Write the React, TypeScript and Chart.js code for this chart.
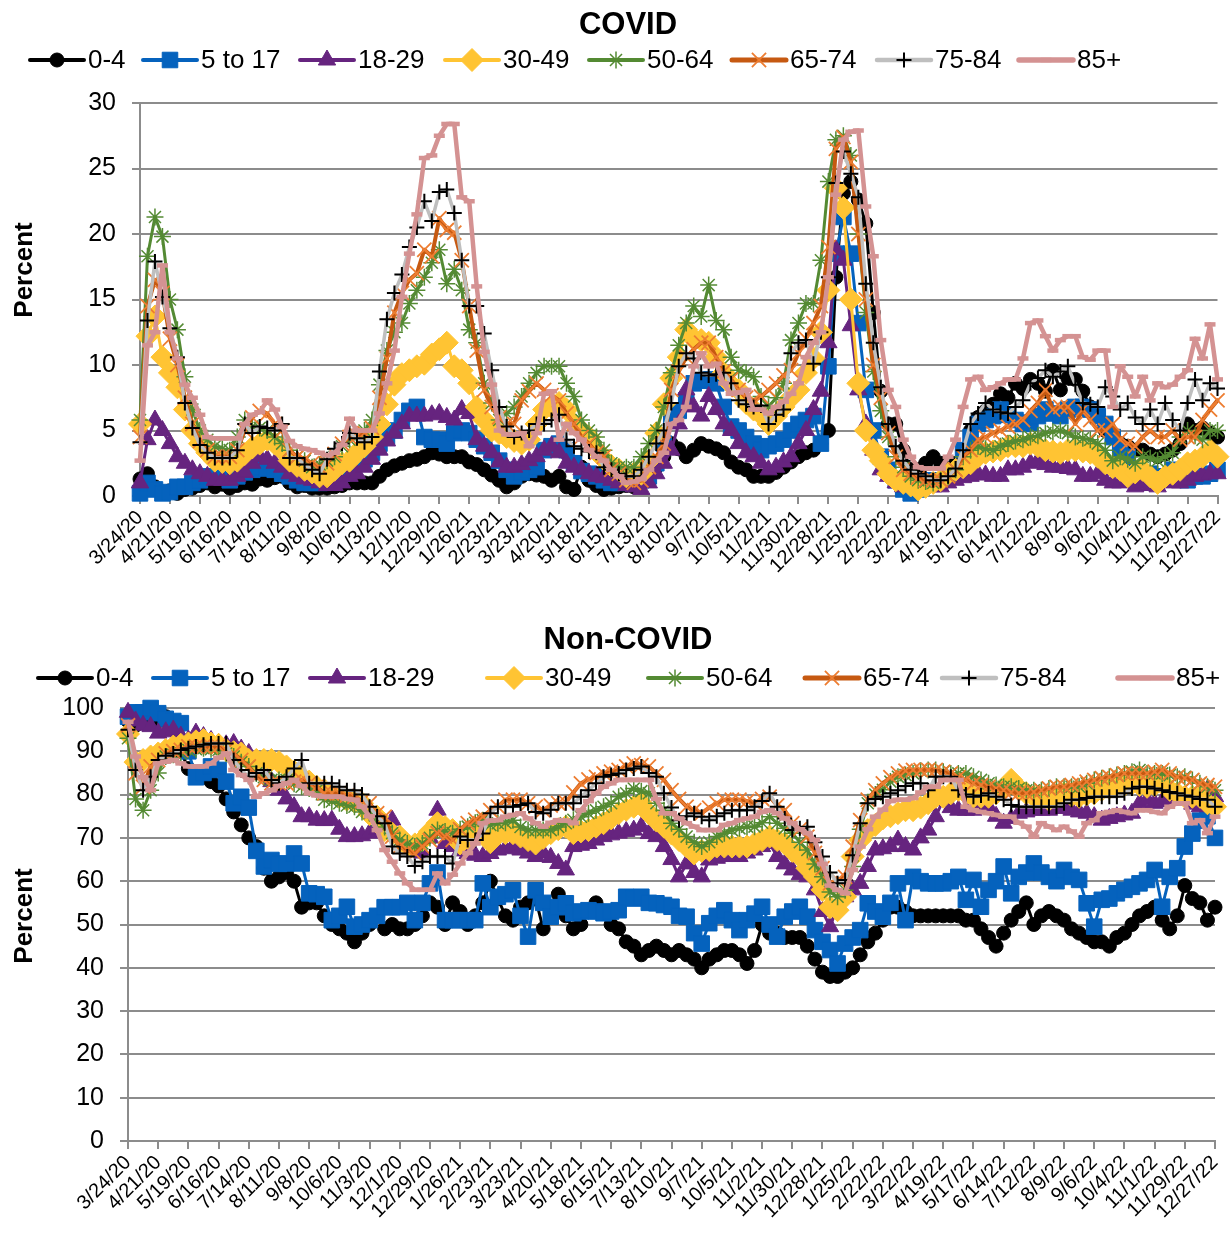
import React, { useEffect, useRef } from 'react';
import { Chart, registerables } from 'chart.js';

Chart.register(...registerables);
Chart.defaults.font.family = '"Liberation Sans", Arial, sans-serif';

// ---------- categories ----------
const START_DATE = [2020, 2, 24]; // 3/24/20
const N_WEEKS = 145;
function weeklyLabels(): string[] {
  const out: string[] = [];
  const d = new Date(START_DATE[0], START_DATE[1], START_DATE[2]);
  for (let i = 0; i < N_WEEKS; i++) {
    out.push(`${d.getMonth() + 1}/${d.getDate()}/${String(d.getFullYear()).slice(2)}`);
    d.setDate(d.getDate() + 7);
  }
  return out;
}
const LABELS = weeklyLabels();
const TICK_EVERY = 4;

const SERIES_NAMES = ['0-4', '5 to 17', '18-29', '30-49', '50-64', '65-74', '75-84', '85+'];

// ---------- COVID (percent) ----------
const covid04 = [
  1.3, 1.7, 0.7, 0.2, 0.4, 0.2, 0.5, 0.6, 0.8, 1.0,
  0.7, 0.9, 0.6, 0.8, 1.0, 0.9, 1.3, 1.2, 1.4, 1.5,
  1.0, 0.7, 0.8, 0.6, 0.6, 0.6, 0.7, 0.8, 1.0, 1.0,
  1.0, 1.0, 1.5, 2.0, 2.3, 2.5, 2.7, 2.8, 3.0, 3.3,
  3.2, 3.0, 3.0, 3.0, 2.6, 2.4, 2.0, 1.6, 1.2, 0.7,
  1.0, 1.5, 1.7, 1.6, 1.5, 1.2, 1.5, 0.7, 0.5, 2.2,
  1.2, 0.8, 0.5, 0.6, 0.7, 0.8, 0.7, 1.0, 1.8, 2.2,
  3.0, 4.0, 3.6, 3.0, 3.5, 4.0, 3.8, 3.6, 3.3, 2.6,
  2.2, 2.0, 1.5, 1.5, 1.5, 1.8, 2.2, 2.6, 3.0, 3.3,
  3.5, 4.0, 5.0, 16.7, 23.1, 24.0, 22.6, 20.8, 14.0, 8.0,
  5.5, 5.5, 3.5, 2.0, 2.0, 2.5, 3.0, 2.5, 1.7, 2.5,
  3.5, 5.0, 6.0, 6.5, 7.0, 7.8, 7.5, 8.6, 8.2, 8.9,
  8.6, 8.0, 9.6, 8.1, 9.0, 8.9, 8.0, 6.8, 6.1, 5.0,
  4.5, 4.0, 3.8, 3.5, 3.5, 3.2, 3.0, 3.2, 3.5, 4.0,
  5.5, 5.0, 5.2, 4.8, 4.5,
];
const covid517 = [
  0.2, 1.0, 0.5, 0.2, 0.3, 0.7, 0.7, 1.0, 1.2, 1.5,
  1.5, 1.5, 1.2, 1.5, 1.8, 2.0, 2.2, 2.1, 2.0, 1.7,
  1.5, 1.2, 1.0, 1.0, 1.0, 1.2, 1.2, 1.7, 2.0, 2.5,
  2.8, 3.3, 4.0, 4.5, 5.0, 5.8, 6.5, 6.8, 4.5, 4.3,
  4.3, 4.0, 4.8, 5.0, 4.8, 4.3, 3.8, 3.3, 2.7, 2.0,
  1.5, 1.8, 2.0, 2.2, 3.5, 3.8, 4.0, 3.5, 2.5, 1.9,
  1.7, 1.5, 1.2, 1.0, 1.0, 1.2, 1.0, 1.2, 1.5, 2.5,
  4.0, 5.8, 6.5, 7.3, 8.6, 8.8, 8.9, 8.6, 6.8, 5.3,
  5.0, 4.5, 4.0, 3.5, 3.8, 4.0, 4.3, 5.0, 5.5, 5.8,
  6.1, 4.0, 9.9, 18.5, 21.3, 18.5, 13.2, 8.1, 5.0, 3.0,
  2.0, 1.2, 0.5, 0.2, 0.5, 1.0, 1.2, 1.2, 1.5, 1.7,
  3.5, 4.5, 5.5, 5.8, 6.1, 6.6, 6.2, 5.8, 5.5, 5.6,
  6.1, 6.6, 6.3, 6.1, 6.6, 6.8, 6.8, 6.6, 6.1, 5.5,
  4.5, 3.5, 3.0, 2.0, 1.2, 1.7, 1.5, 1.5, 2.0, 1.5,
  1.2, 1.5, 1.5, 1.7, 2.0,
];
const covid1829 = [
  1.0, 4.3, 5.8, 5.0, 4.0, 3.0, 2.5, 2.0, 1.7, 1.5,
  1.2, 1.2, 1.2, 1.5, 1.8, 2.5, 3.0, 2.8, 2.5, 2.2,
  1.7, 1.5, 1.3, 1.2, 1.0, 0.8, 0.8, 1.0, 1.5, 1.7,
  2.2, 2.8, 3.5, 4.2, 4.8, 5.5, 6.1, 6.1, 6.1, 6.2,
  6.3, 6.0, 5.8, 6.6, 6.3, 4.3, 3.8, 3.3, 2.6, 2.2,
  2.2, 2.4, 2.7, 3.0, 3.5, 3.8, 3.3, 2.5, 2.2, 2.0,
  1.7, 1.5, 1.4, 1.2, 1.0, 0.8, 0.7, 0.5, 1.0, 1.7,
  2.5, 3.5, 5.5, 8.1, 6.8, 6.1, 7.6, 6.6, 5.5, 5.0,
  4.0, 3.3, 3.0, 2.5, 2.0, 2.2, 2.6, 3.0, 4.0, 5.0,
  6.6, 8.0, 11.7, 18.8, 18.0, 13.0, 8.1, 5.5, 3.5, 2.0,
  1.5, 1.0, 0.7, 0.7, 1.0, 1.0, 0.7, 0.7, 1.0, 1.2,
  1.4, 1.5, 1.7, 1.6, 1.5, 1.5, 2.0, 2.0, 2.2, 2.5,
  2.7, 2.4, 2.2, 2.2, 2.1, 2.0, 1.5, 1.5, 1.7, 1.2,
  1.0, 1.0, 1.2, 0.7, 1.0, 0.8, 0.7, 1.5, 1.0, 1.0,
  1.2, 1.5, 1.6, 1.7, 1.7,
];
const covid3049 = [
  5.5, 12.2, 13.7, 10.6, 9.4, 8.3, 6.6, 5.0, 4.0, 3.3,
  2.7, 2.6, 2.5, 2.7, 3.2, 3.7, 4.0, 4.3, 4.0, 3.5,
  2.7, 2.3, 2.0, 1.8, 1.5, 1.5, 2.0, 2.5, 2.7, 3.3,
  3.8, 4.5, 5.5, 7.0, 8.5, 9.3, 9.6, 9.9, 10.1, 10.8,
  11.2, 11.7, 9.9, 9.6, 8.6, 6.8, 5.8, 5.0, 4.8, 4.5,
  4.2, 4.0, 4.3, 5.5, 6.6, 6.8, 7.1, 6.6, 5.5, 5.0,
  4.5, 3.5, 2.8, 2.3, 2.0, 1.5, 1.7, 1.7, 2.7, 4.8,
  7.0, 9.0, 10.6, 12.7, 12.0, 11.9, 11.7, 10.6, 9.4, 8.5,
  8.1, 7.1, 6.6, 6.2, 5.5, 6.1, 6.8, 7.5, 8.1, 9.4,
  10.5, 12.5, 15.7, 23.5, 22.0, 15.0, 8.6, 5.0, 3.5, 2.7,
  1.7, 1.2, 1.0, 0.8, 0.5, 0.7, 1.0, 1.2, 1.7, 2.0,
  2.2, 2.5, 3.0, 3.3, 3.4, 3.5, 3.8, 3.8, 3.8, 4.0,
  3.8, 3.5, 3.4, 3.3, 3.5, 3.5, 3.4, 3.3, 3.0, 2.5,
  2.2, 2.0, 1.5, 1.8, 2.0, 1.5, 1.0, 1.5, 1.7, 2.0,
  2.5, 2.7, 3.0, 3.5, 3.0,
];
const covid5064 = [
  5.8, 18.3, 21.3, 19.8, 15.0, 12.7, 9.1, 6.6, 5.0, 4.3,
  3.8, 3.6, 3.5, 4.5, 5.8, 5.3, 5.2, 5.0, 4.5, 4.0,
  3.5, 3.0, 2.7, 2.2, 2.4, 2.7, 3.0, 3.8, 4.3, 4.6,
  5.0, 5.8, 8.5, 11.1, 12.5, 13.2, 14.7, 15.7, 16.7, 17.8,
  18.8, 16.2, 17.3, 15.7, 12.7, 11.7, 8.6, 7.1, 5.8, 6.3,
  6.8, 7.6, 8.6, 9.4, 9.9, 9.9, 9.9, 8.6, 7.6, 5.8,
  5.0, 4.5, 3.5, 2.5, 2.2, 2.2, 2.2, 3.0, 4.0, 5.0,
  6.8, 9.4, 11.5, 13.2, 14.5, 13.7, 16.1, 13.4, 12.7, 10.6,
  9.6, 9.4, 9.1, 7.6, 6.8, 7.5, 8.6, 11.9, 13.2, 14.7,
  14.7, 18.0, 24.0, 27.2, 27.5, 26.0, 20.0, 14.0, 9.5, 6.5,
  4.5, 3.0, 2.2, 1.5, 1.2, 1.1, 1.0, 1.2, 1.5, 2.0,
  3.0, 3.5, 3.8, 3.6, 3.5, 3.8, 4.0, 4.2, 4.3, 4.5,
  4.6, 4.8, 4.9, 5.0, 4.8, 4.5, 4.4, 4.3, 4.0, 3.5,
  2.7, 3.0, 2.8, 2.5, 3.0, 2.9, 2.7, 3.0, 3.3, 4.5,
  5.0, 4.6, 4.3, 5.0, 5.0,
];
const covid6574 = [
  4.5, 14.5, 16.5, 15.5, 12.0, 10.0, 7.5, 5.5, 4.2, 3.5,
  3.0, 3.0, 3.0, 3.5, 5.0, 6.0, 6.5, 6.3, 5.5, 5.0,
  3.5, 3.0, 2.8, 2.5, 2.2, 2.5, 3.2, 4.0, 4.5, 4.6,
  4.8, 5.2, 7.5, 10.5, 14.0, 15.5, 16.5, 17.0, 18.8, 18.3,
  21.2, 20.3, 20.1, 18.0, 14.5, 11.1, 8.1, 6.8, 6.0, 5.5,
  5.5, 7.3, 8.0, 8.6, 8.1, 7.7, 7.3, 6.3, 5.5, 4.5,
  4.0, 3.3, 3.0, 2.0, 1.7, 1.2, 1.0, 1.2, 2.2, 3.0,
  4.0, 8.1, 9.5, 10.6, 11.2, 11.7, 11.7, 10.6, 9.5, 8.9,
  8.1, 7.5, 7.3, 7.6, 8.1, 8.6, 9.2, 9.6, 10.9, 12.0,
  13.2, 14.5, 19.0, 26.5, 27.4, 25.5, 20.0, 15.0, 10.0, 7.5,
  4.8, 3.0, 2.0, 1.7, 1.4, 1.2, 1.2, 1.2, 1.5, 2.0,
  3.0, 3.5, 4.3, 4.5, 4.8, 5.0, 5.3, 5.5, 5.8, 6.5,
  7.1, 8.1, 6.6, 6.8, 6.8, 5.5, 6.6, 5.8, 5.0, 5.0,
  5.5, 4.3, 4.0, 3.8, 4.5, 5.0, 4.5, 4.5, 5.0, 4.3,
  4.5, 4.5, 5.8, 6.6, 7.3,
];
const covid7584 = [
  4.1, 13.4, 17.9, 15.2, 12.8, 10.6, 7.1, 5.2, 3.9, 3.3,
  2.9, 2.9, 2.9, 3.5, 5.5, 4.8, 5.3, 5.2, 5.0, 5.5,
  2.9, 2.9, 2.4, 2.0, 1.7, 2.8, 3.6, 4.0, 4.8, 4.4,
  4.1, 4.5, 9.5, 13.5, 15.5, 16.9, 19.0, 20.5, 22.5, 21.0,
  23.2, 23.4, 21.6, 18.0, 14.5, 14.5, 12.4, 9.6, 6.8, 5.3,
  4.5, 4.8, 5.0, 5.5, 5.5, 5.8, 6.2, 4.3, 3.8, 3.6,
  3.4, 3.3, 2.2, 2.0, 1.7, 1.5, 1.5, 2.0, 3.0, 4.0,
  5.0, 7.1, 9.9, 10.9, 10.5, 9.4, 9.2, 9.3, 9.4, 8.6,
  7.3, 7.0, 6.8, 6.9, 5.5, 6.2, 6.6, 10.9, 11.7, 11.9,
  10.1, 12.5, 16.7, 23.9, 26.3, 24.6, 22.8, 16.2, 11.7, 8.3,
  5.5, 3.8, 2.7, 2.0, 1.7, 1.5, 1.2, 1.2, 1.5, 2.1,
  3.5, 5.5, 6.3, 7.1, 6.6, 6.4, 6.3, 6.8, 7.3, 8.6,
  9.0, 9.6, 9.1, 9.5, 9.9, 8.5, 7.1, 7.0, 6.8, 8.3,
  7.6, 6.6, 7.1, 6.0, 5.5, 6.6, 5.5, 7.1, 5.8, 5.0,
  7.1, 8.9, 7.3, 8.6, 8.2,
];
const covid85 = [
  2.7, 11.5, 12.5, 17.6, 12.5, 10.5, 8.5, 7.5, 6.2, 4.5,
  4.4, 4.4, 4.4, 4.4, 5.5, 6.2, 6.4, 7.3, 6.6, 5.3,
  4.2, 3.8, 3.6, 3.5, 3.3, 3.1, 3.3, 3.9, 5.9, 5.0,
  5.0, 5.0, 6.3, 8.6, 11.1, 15.2, 18.5, 21.5, 25.8, 26.0,
  27.5, 28.4, 28.4, 22.8, 22.5, 16.0, 11.0, 8.5, 5.0, 4.7,
  4.7, 4.8, 3.8, 4.8, 7.8, 8.0, 4.3, 5.5, 4.8, 4.3,
  3.5, 3.0, 2.7, 2.0, 1.5, 1.0, 1.1, 1.3, 2.0, 2.7,
  3.3, 5.5, 5.8, 6.8, 9.9, 10.9, 9.9, 10.1, 8.6, 7.8,
  7.9, 8.1, 6.6, 6.6, 6.3, 6.8, 7.2, 7.8, 8.6, 10.6,
  11.7, 12.5, 16.7, 23.0, 27.2, 27.8, 27.9, 22.1, 18.3, 11.9,
  8.1, 6.8, 4.3, 3.0, 2.2, 2.1, 2.1, 2.1, 3.0, 4.3,
  6.8, 8.9, 9.1, 8.1, 8.3, 8.6, 8.9, 8.9, 10.5, 13.2,
  13.4, 12.2, 11.1, 11.9, 12.2, 12.2, 10.6, 10.4, 11.1, 11.1,
  6.8, 9.9, 9.1, 7.6, 9.1, 7.3, 8.6, 8.3, 8.5, 9.1,
  9.6, 12.0, 10.5, 13.1, 8.9,
];

// ---------- Non-COVID (percent) ----------
const nc04 = [
  97, 96, 97, 98, 97, 98, 95, 90, 86, 85,
  84, 83, 82, 79, 76, 73, 70, 68, 63, 60,
  61, 62, 60, 54, 55, 55, 52, 50, 49, 48,
  46, 48, 50, 52, 49, 50, 49, 49, 50, 52,
  55, 54, 50, 55, 53, 50, 52, 55, 60, 56,
  52, 51, 54, 55, 56, 49, 54, 57, 52, 49,
  50, 53, 55, 53, 50, 49, 46, 45, 43, 44,
  45, 44, 43, 44, 43, 42, 40, 42, 43, 44,
  44, 43, 41, 44, 50, 48, 48, 47, 47, 47,
  45, 42, 39, 38, 38, 39, 40, 43, 46, 48,
  51, 54, 54, 53, 52, 52, 52, 52, 52, 52,
  52, 51, 51, 49, 47, 45, 48, 51, 53, 55,
  50, 52, 53, 52, 51, 49, 48, 47, 46, 46,
  45, 47, 48, 50, 52, 53, 54, 51, 49, 52,
  59, 56, 55, 51, 54,
];
const nc517 = [
  98, 99, 99, 100, 98.8, 97.5, 97, 96.5, 90, 84,
  85, 86.5, 85.7, 83, 78, 79.5, 77, 67, 63.4, 64.9,
  64, 64.1, 66.4, 64.1, 57.2, 57, 56.4, 51, 52, 54.1,
  49.5, 50, 51, 52, 54, 54, 54, 55, 51, 55,
  59.5, 62, 51, 51, 51, 51, 51, 59.5, 54, 56.4,
  57, 57.9, 52, 47.2, 57.9, 55, 51.8, 54, 54.9, 52.6,
  53, 53.3, 53, 52.6, 53, 53.3, 56.4, 56, 56.4, 55,
  54.9, 54.5, 54.1, 52, 51.8, 48, 45.6, 50.3, 52, 53.3,
  51, 48.7, 51, 52.5, 54.1, 50, 47.2, 51.8, 53, 54.1,
  51.8, 48.7, 46, 44.1, 41, 45.6, 47, 48.7, 54.9, 53,
  51.8, 55, 59.5, 51, 61, 60, 59.5, 59.5, 59.5, 60,
  61, 55.7, 60.3, 54.1, 58, 60, 63.4, 57.2, 61, 62,
  64.1, 62, 61, 60, 62.6, 61, 60.3, 54.9, 49.5, 55.7,
  56, 57.2, 58, 58.7, 59.5, 60.3, 62.6, 54.1, 61, 63,
  68, 71, 74, 75, 70,
];
const nc1829 = [
  99, 97, 96, 95.7, 94.2, 94.5, 94.9, 93.5, 92.6, 94.2,
  93.4, 92.5, 91.8, 91.5, 91.8, 90.5, 89.5, 88, 85, 83,
  81, 79, 77.2, 74.9, 74.9, 74.1, 74, 74.1, 72, 70.3,
  70.3, 70.5, 71.1, 72, 72.6, 74.1, 70.3, 68.5, 67.2, 66.5,
  70, 76.4, 68.7, 68, 67, 66.4, 66, 65.7, 66.4, 67.2,
  67.5, 68, 67.2, 66.5, 65.7, 66.5, 65.5, 64.1, 62.6, 68,
  68.3, 68.7, 69.5, 70.3, 70.7, 71.1, 71.5, 71.8, 72.6, 71,
  70.3, 68, 65, 61, 64, 62, 61, 64.9, 65.3, 65.7,
  65.7, 65.7, 66.5, 67.2, 68, 68.7, 65.7, 64, 62.6, 61.5,
  61, 58, 53, 49.5, 54.1, 56.4, 58, 59.5, 63.4, 67.2,
  67.5, 68, 69.5, 68, 67.2, 70, 71.8, 74.9, 78.8, 77,
  76.4, 76.4, 76.4, 76.8, 77.2, 75, 73.4, 74.5, 75.7, 76,
  76.4, 76.4, 76.4, 76.8, 77.2, 76.4, 76, 75.7, 74.9, 74.1,
  74.5, 74.9, 75.3, 75.7, 78, 78.8, 78, 78.4, 78.8, 78.8,
  78.8, 77.8, 77.2, 81.1, 79.5,
];
const nc3049 = [
  94, 87.5, 88, 88.8, 89.5, 90.3, 91.1, 91.5, 91.8, 92.3,
  92.6, 91.8, 91.5, 90.3, 89.8, 89.5, 88, 88, 88, 88,
  87.5, 86.5, 85.3, 84.1, 83, 81.8, 81, 80.3, 79.5, 78.8,
  78.4, 78, 75.5, 74.9, 71.8, 71, 70.3, 68, 68.5, 69.5,
  71.5, 73.4, 72.5, 71.8, 68.7, 70, 71.1, 71.5, 69, 71.1,
  71.1, 71.1, 70.3, 69.5, 68.7, 70, 71.1, 72, 72.6, 71.1,
  71.5, 71.8, 72.6, 73.4, 74.5, 75.7, 76.5, 77.2, 78, 75.7,
  74, 72.6, 71, 69.5, 68, 66.4, 67, 67.2, 68, 68,
  68, 68, 68, 68.7, 69.5, 70.3, 69.5, 68.7, 67, 65.7,
  63, 61, 58, 54, 53.3, 56.4, 65.7, 69.5, 71.8, 73,
  74.5, 75, 75.7, 76.4, 76.4, 77, 78, 79.5, 79.5, 80.3,
  81.1, 80.3, 79.5, 79.5, 79.5, 80.3, 81.5, 83.4, 81.5, 80.3,
  79.5, 79.5, 78.8, 79.5, 80.3, 79.8, 79.5, 80, 80.3, 81.1,
  81.5, 81.8, 82.2, 82.6, 82.2, 81.8, 82.2, 82.6, 81.1, 80.3,
  79.5, 79.5, 79.5, 78, 77.2,
];
const nc5064 = [
  93, 79, 76.4, 81, 85, 88.8, 89.2, 89.5, 90.3, 90.5,
  90.7, 90.5, 90.3, 89.5, 88.8, 87.5, 86.5, 84.9, 84, 83.4,
  83.4, 83.4, 82.5, 81.8, 81.4, 81, 78.8, 78.4, 78, 77.5,
  77.2, 76, 75.7, 74.1, 72.5, 71.1, 69.5, 68.7, 68, 68.7,
  70, 71.8, 71.5, 71.1, 72, 72.6, 73.5, 74.1, 73, 73.4,
  73.5, 74.1, 72.5, 71.8, 71.8, 71.8, 71.8, 72.5, 73.4, 74.2,
  74.9, 75.7, 76.4, 77.2, 78, 79.5, 80.3, 81.4, 80.8, 80.3,
  78, 76.4, 73.4, 72, 70.3, 69, 68, 69, 70.3, 71.1,
  71.8, 72.2, 72.6, 72.6, 73.5, 74.9, 73.4, 72.2, 71.1, 69,
  67.2, 64, 61, 57.5, 56.4, 57.9, 63.4, 72, 78, 80,
  81.1, 83, 84.1, 84.5, 84.9, 85.5, 85.7, 85.7, 85.3, 84.9,
  84.9, 84.9, 84.1, 83.4, 82.6, 82.2, 81.8, 81.8, 81.4, 81,
  81, 81, 81.4, 81.8, 81.8, 81.8, 81.8, 82.6, 83.4, 83.8,
  84.1, 84.5, 84.9, 85.3, 85.7, 84.9, 84.9, 84.9, 84.5, 84.1,
  84.1, 83.4, 82.6, 81.8, 81,
];
const nc6574 = [
  96, 84.9, 81.8, 86.5, 88, 89.5, 90, 90.3, 91.1, 91.1,
  91.1, 91.1, 91.1, 90.3, 89.5, 88, 86.5, 84, 83.4, 82.6,
  82.6, 82.6, 83, 83.4, 82.6, 81.8, 80.3, 80.3, 80.3, 79.8,
  79.5, 78.5, 78, 75.7, 74.9, 70.3, 68, 67.2, 66.4, 68,
  69.5, 71.1, 70.3, 69.5, 72, 73.4, 74.2, 74.9, 76.4, 77.2,
  78.8, 78.8, 78.8, 78, 77.2, 76.4, 77.5, 78, 78.2, 80.5,
  82.6, 83.5, 84.1, 84.9, 85.3, 85.7, 86.5, 87.2, 86.8, 86.5,
  84.9, 83.4, 81, 79, 77.2, 76.4, 75.7, 77, 78, 78.8,
  78.8, 78.8, 78.5, 78, 79, 79.5, 77.5, 76.4, 73.4, 72,
  70.3, 66.5, 63, 59.5, 60.3, 61, 68, 74.1, 78.8, 81,
  82.6, 84, 84.9, 85.5, 85.7, 85.7, 85.7, 85.7, 85.3, 84.9,
  84, 83.4, 82.6, 82.2, 81.8, 81.4, 81, 80.5, 80.3, 80.3,
  80.6, 81, 81.4, 81.8, 81.8, 82.2, 82.6, 83, 83.4, 83.8,
  84.1, 84.5, 84.9, 84.9, 84.9, 84.9, 85.3, 85.7, 84.9, 84.1,
  83.8, 83.4, 82.6, 82.2, 81.8,
];
const nc7584 = [
  95, 85.7, 81, 84.1, 88, 89, 89.5, 90.3, 90.7, 91.1,
  91.5, 91.8, 91.8, 91.8, 88, 85.7, 84.1, 85, 85.7, 83.4,
  82.6, 84.1, 86, 88, 82.6, 82.6, 82.6, 82.6, 81.8, 81,
  81, 80, 77.2, 75, 73.4, 68, 66.4, 65.7, 63.5, 64.5,
  65.7, 65.7, 65.7, 64.1, 70.3, 69.5, 69.5, 71, 75.7, 77.2,
  77.2, 77.2, 77.6, 78, 76, 75.7, 76.5, 78, 78, 78,
  79.5, 81, 82.6, 84.1, 84.5, 84.9, 85.7, 86, 86.5, 85,
  84.1, 80.3, 77, 74.1, 75, 75.7, 74.9, 74.1, 75, 75.7,
  76.4, 76.4, 76.4, 77.2, 78.5, 80.3, 77.2, 74.5, 71.8, 72.2,
  72.6, 69, 65.7, 62, 59.5, 60.3, 66, 73.4, 78, 79,
  79.5, 80.3, 81, 82, 82.6, 82.6, 81, 84.1, 84.1, 84.1,
  81, 80, 79.5, 79.8, 80.3, 79.5, 78.8, 77.6, 77.2, 77.2,
  77.2, 77.2, 77.2, 77.2, 78, 78.8, 78.8, 79.2, 79.5, 79.5,
  79.5, 79.5, 80.3, 81.4, 81.8, 81.8, 81.4, 81, 80.6, 80.3,
  79.8, 79.5, 79, 78.8, 77.2,
];
const nc85 = [
  96.8, 88.8, 84, 81, 87.2, 87.6, 88, 87.2, 86.5, 86.5,
  86.5, 87.2, 88.5, 89.5, 85.7, 84.5, 83.4, 79.5, 80.3, 81,
  82, 82.6, 83.4, 82, 80.3, 79.8, 79.5, 79.5, 79.5, 79,
  78.8, 77.2, 75, 71.8, 67.2, 64.5, 61.8, 59.5, 58, 58,
  58, 61.8, 59.5, 61.5, 64.1, 66.5, 68.7, 73.4, 74, 74.1,
  74.9, 75.3, 75.7, 74.5, 73.4, 72.6, 73.5, 74.1, 74, 73.4,
  76.4, 78.5, 80.3, 81.8, 82.6, 83.4, 83.4, 83.4, 83.4, 83.4,
  79, 75.7, 75.7, 74.5, 73.4, 72.6, 71.8, 71.8, 71.8, 73,
  73.4, 74.1, 74.5, 74.9, 76, 76.4, 75.7, 74.5, 73.4, 72,
  71.1, 69.5, 64, 59, 58, 57.2, 62.6, 68, 72, 74.9,
  76.5, 78.5, 78.8, 78.8, 79.2, 80.5, 81.8, 81.8, 83.4, 83.4,
  83.4, 77.2, 76.4, 76, 75.7, 75.3, 74.9, 74.9, 73.5, 72.6,
  70.3, 73.4, 72.6, 71.8, 72.6, 71.5, 70.3, 73.4, 74.1, 75.7,
  76, 76.4, 76, 75.7, 76.4, 76.4, 76, 75.7, 77.2, 78,
  78, 73.4, 74.1, 71.1, 74.9,
];

const COVID_SERIES = [covid04, covid517, covid1829, covid3049, covid5064, covid6574, covid7584, covid85];
const NONCOVID_SERIES = [nc04, nc517, nc1829, nc3049, nc5064, nc6574, nc7584, nc85];

// ---------- styles ----------
type SeriesStyle = { line: string; lw: number; pt: string; r: number; fill: string; stroke: string; pbw: number };
const STYLES: SeriesStyle[] = [
  { line: '#000000', lw: 3, pt: 'circle', r: 7, fill: '#000000', stroke: '#000000', pbw: 1 },
  { line: '#0562BD', lw: 3, pt: 'rect', r: 11, fill: '#0562BD', stroke: '#0562BD', pbw: 1 },
  { line: '#66247F', lw: 3, pt: 'triangle', r: 10, fill: '#66247F', stroke: '#66247F', pbw: 1 },
  { line: '#FFC433', lw: 3, pt: 'rectRot', r: 11.5, fill: '#FFC433', stroke: '#FFC433', pbw: 1 },
  { line: '#548A33', lw: 3, pt: 'star', r: 8.5, fill: '#548A33', stroke: '#548A33', pbw: 1.5 },
  { line: '#C65911', lw: 4, pt: 'crossRot', r: 10, fill: '#ED7D31', stroke: '#ED7D31', pbw: 1.8 },
  { line: '#BFBFBF', lw: 3.5, pt: 'cross', r: 7.5, fill: '#000000', stroke: '#000000', pbw: 2 },
  { line: '#D49292', lw: 4.5, pt: 'line', r: 5.5, fill: '#D49292', stroke: '#D49292', pbw: 4.5 },
];

const GRID = '#8C8C8C';
const FONT = '"Liberation Sans", Arial, sans-serif';

function drawMarker(ctx: CanvasRenderingContext2D, s: SeriesStyle, x: number, y: number) {
  const r = s.r;
  ctx.save();
  ctx.fillStyle = s.fill;
  ctx.strokeStyle = s.stroke;
  ctx.lineWidth = s.pbw;
  ctx.beginPath();
  const q = Math.SQRT1_2 * r;
  switch (s.pt) {
    case 'circle':
      ctx.arc(x, y, r, 0, Math.PI * 2);
      ctx.fill(); ctx.stroke();
      break;
    case 'rect':
      ctx.rect(x - q, y - q, 2 * q, 2 * q);
      ctx.fill(); ctx.stroke();
      break;
    case 'triangle':
      ctx.moveTo(x, y - r);
      ctx.lineTo(x + 0.866 * r, y + 0.5 * r);
      ctx.lineTo(x - 0.866 * r, y + 0.5 * r);
      ctx.closePath();
      ctx.fill(); ctx.stroke();
      break;
    case 'rectRot':
      ctx.moveTo(x - r, y); ctx.lineTo(x, y - r); ctx.lineTo(x + r, y); ctx.lineTo(x, y + r);
      ctx.closePath();
      ctx.fill(); ctx.stroke();
      break;
    case 'star':
      ctx.moveTo(x, y - r); ctx.lineTo(x, y + r);
      ctx.moveTo(x - r, y); ctx.lineTo(x + r, y);
      ctx.moveTo(x - q, y - q); ctx.lineTo(x + q, y + q);
      ctx.moveTo(x - q, y + q); ctx.lineTo(x + q, y - q);
      ctx.stroke();
      break;
    case 'crossRot':
      ctx.moveTo(x - q, y - q); ctx.lineTo(x + q, y + q);
      ctx.moveTo(x - q, y + q); ctx.lineTo(x + q, y - q);
      ctx.stroke();
      break;
    case 'cross':
      ctx.moveTo(x, y - r); ctx.lineTo(x, y + r);
      ctx.moveTo(x - r, y); ctx.lineTo(x + r, y);
      ctx.stroke();
      break;
    case 'line':
      ctx.moveTo(x - r, y); ctx.lineTo(x + r, y);
      ctx.stroke();
      break;
  }
  ctx.restore();
}

type PanelText = {
  title: string; titleX: number; titleY: number; titleSize: number;
  legendY: number; legendXs: number[]; legendSize: number; lineLen: number;
  yTitleX: number; yTitleY: number;
};

const textPlugin = {
  id: 'panelText',
  afterDraw(chart: any, _args: any, opts: PanelText) {
    const ctx: CanvasRenderingContext2D = chart.ctx;
    ctx.save();
    ctx.fillStyle = '#000';
    ctx.textAlign = 'center';
    ctx.textBaseline = 'middle';
    ctx.font = `bold ${opts.titleSize}px ${FONT}`;
    ctx.fillText(opts.title, opts.titleX, opts.titleY);

    ctx.save();
    ctx.translate(opts.yTitleX, opts.yTitleY);
    ctx.rotate(-Math.PI / 2);
    ctx.font = `bold 26px ${FONT}`;
    ctx.fillText('Percent', 0, 0);
    ctx.restore();

    ctx.font = `${opts.legendSize}px ${FONT}`;
    ctx.textAlign = 'left';
    SERIES_NAMES.forEach((name, k) => {
      const s = STYLES[k];
      const x0 = opts.legendXs[k];
      const y = opts.legendY;
      ctx.save();
      ctx.strokeStyle = s.line;
      ctx.lineWidth = s.lw + 1;
      ctx.lineCap = 'round';
      ctx.beginPath();
      ctx.moveTo(x0, y);
      ctx.lineTo(x0 + opts.lineLen, y);
      ctx.stroke();
      ctx.restore();
      drawMarker(ctx, s, x0 + opts.lineLen / 2, y);
      ctx.fillStyle = '#000';
      ctx.fillText(name, x0 + opts.lineLen + 4, y + 1);
    });
    ctx.restore();
  },
};

type PanelCfg = {
  series: number[][]; yMax: number; yStep: number;
  padTop: number; padRight: number; yAxisWidth: number; xAxisHeight: number;
  text: PanelText;
};

function makeConfig(p: PanelCfg): any {
  return {
    type: 'line',
    data: {
      labels: LABELS,
      datasets: p.series.map((vals, k) => {
        const s = STYLES[k];
        return {
          label: SERIES_NAMES[k],
          data: vals,
          borderColor: s.line,
          backgroundColor: s.fill,
          borderWidth: s.lw,
          borderJoinStyle: 'round',
          borderCapStyle: 'round',
          pointStyle: s.pt,
          pointRadius: s.r,
          pointHoverRadius: s.r,
          pointBackgroundColor: s.fill,
          pointBorderColor: s.stroke,
          pointBorderWidth: s.pbw,
          tension: 0,
          fill: false,
          clip: false,
          order: 7 - k,
        };
      }),
    },
    options: {
      responsive: false,
      animation: false,
      devicePixelRatio: 1,
      events: [],
      layout: { padding: { top: p.padTop, left: 0, right: p.padRight, bottom: 0 } },
      plugins: {
        legend: { display: false },
        title: { display: false },
        tooltip: { enabled: false },
        panelText: p.text,
      },
      scales: {
        x: {
          type: 'category',
          offset: false,
          ticks: {
            autoSkip: false,
            maxRotation: 45,
            minRotation: 45,
            font: { size: 20, family: FONT },
            color: '#000',
            padding: 2,
          },
          grid: { drawOnChartArea: false, drawTicks: true, tickLength: 8, color: GRID, lineWidth: 2 },
          border: { color: GRID, width: 2 },
          afterBuildTicks: (scale: any) => {
            scale.ticks = scale.ticks.filter((t: any) => t.value % TICK_EVERY === 0);
          },
          afterFit: (scale: any) => {
            scale.height = p.xAxisHeight;
            scale.paddingLeft = 0;
            scale.paddingRight = 0;
          },
        },
        y: {
          min: 0,
          max: p.yMax,
          ticks: { stepSize: p.yStep, font: { size: 25, family: FONT }, color: '#000', padding: 16 },
          grid: { color: GRID, lineWidth: 2, tickLength: 8 },
          border: { color: GRID, width: 2 },
          afterFit: (scale: any) => {
            scale.width = p.yAxisWidth;
          },
        },
      },
    },
    plugins: [textPlugin],
  };
}

const PANEL_H = 617;

const TOP_PANEL: PanelCfg = {
  series: COVID_SERIES, yMax: 30, yStep: 5,
  padTop: 103, padRight: 11, yAxisWidth: 140, xAxisHeight: PANEL_H - 496,
  text: {
    title: 'COVID', titleX: 628, titleY: 25, titleSize: 31,
    legendY: 60, legendXs: [30, 143, 300, 445, 589, 732, 877, 1019], legendSize: 26, lineLen: 54,
    yTitleX: 25, yTitleY: 270,
  },
};
const BOTTOM_PANEL: PanelCfg = {
  series: NONCOVID_SERIES, yMax: 100, yStep: 10,
  padTop: 708 - PANEL_H, padRight: 15, yAxisWidth: 128, xAxisHeight: PANEL_H - (1141 - PANEL_H),
  text: {
    title: 'Non-COVID', titleX: 628, titleY: 640 - PANEL_H, titleSize: 31,
    legendY: 678 - PANEL_H, legendXs: [38, 153, 310, 487, 648, 805, 942, 1118], legendSize: 26, lineLen: 54,
    yTitleX: 25, yTitleY: 916 - PANEL_H,
  },
};

function Panel({ cfg, top }: { cfg: PanelCfg; top: number }) {
  const ref = useRef<HTMLCanvasElement | null>(null);
  useEffect(() => {
    if (!ref.current) return;
    const chart = new Chart(ref.current, makeConfig(cfg));
    return () => chart.destroy();
  }, [cfg]);
  return (
    <canvas
      ref={ref}
      width={1230}
      height={PANEL_H}
      style={{ position: 'absolute', left: 0, top, width: 1230, height: PANEL_H }}
    />
  );
}

export default function App() {
  return (
    <div style={{ position: 'absolute', left: 0, top: 0, width: 1230, height: 1234, background: '#fff', overflow: 'hidden' }}>
      <Panel cfg={TOP_PANEL} top={0} />
      <Panel cfg={BOTTOM_PANEL} top={PANEL_H} />
    </div>
  );
}
